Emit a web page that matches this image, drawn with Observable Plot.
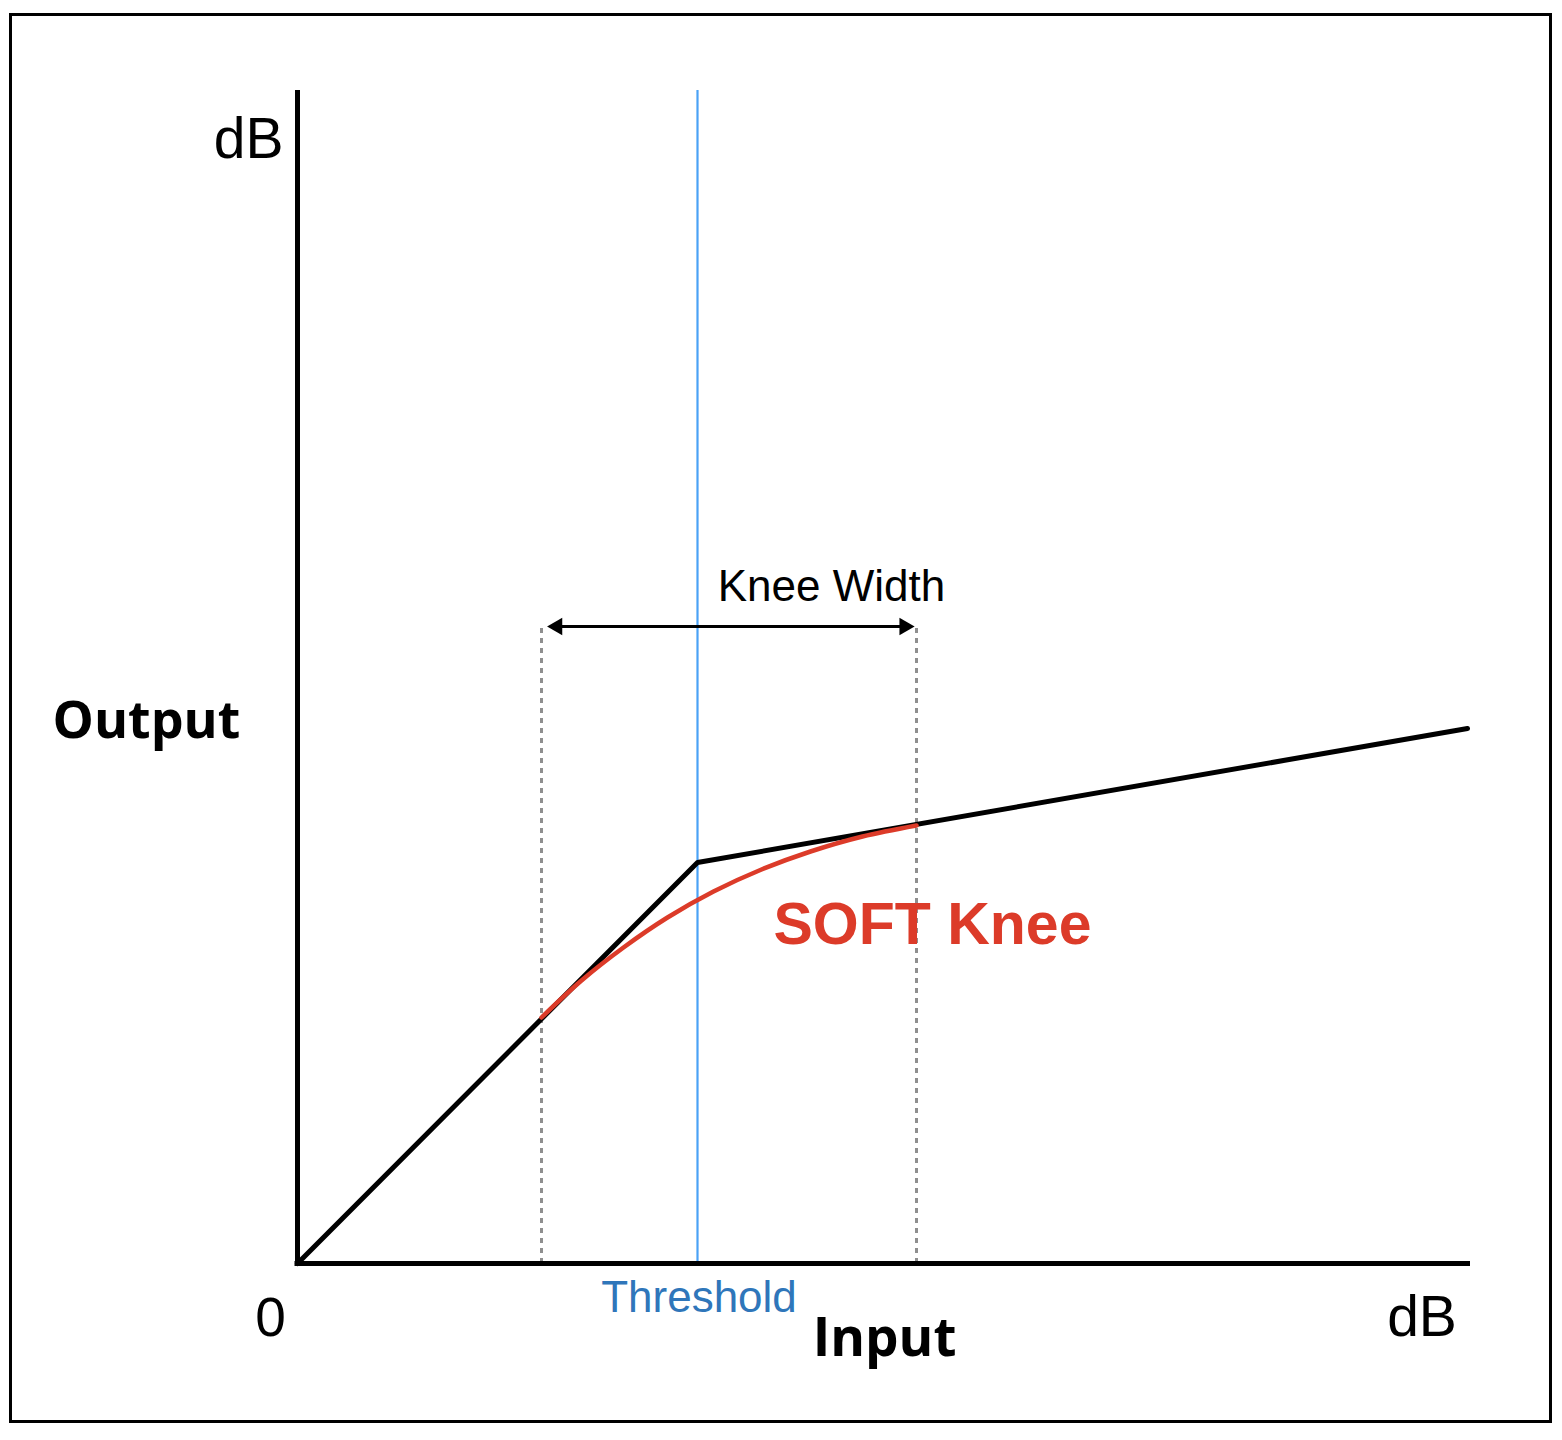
<!DOCTYPE html>
<html>
<head>
<meta charset="utf-8">
<script src="https://cdn.jsdelivr.net/npm/d3@7"></script>
<script src="https://cdn.jsdelivr.net/npm/@observablehq/plot@0.6"></script>
<style>
  html, body { margin: 0; padding: 0; background: #fff; }
  #wrap { position: relative; width: 1562px; height: 1440px; }
  #border { position: absolute; left: 9px; top: 13px; width: 1543px; height: 1410px; box-sizing: border-box; border: 3px solid #000; pointer-events: none; }
  svg { display: block; }
</style>
</head>
<body>
<div id="wrap"><div id="border"></div></div>
<script>
// ---- Data (input / output in dB units) ----
const axisMax = 117.3;
const threshold = 40;
const kneeLow = 24.4;
const kneeHigh = 61.9;
const kneeTop = 63.8;

const transferX = [0, 40, 117];
const transferY = [0, 40.1, 53.5];

const softX = [24.4, 28.4, 32.6, 37.0, 41.6, 46.4, 51.3, 56.5, 61.9];
const softY = [24.6, 28.3, 31.6, 34.6, 37.2, 39.4, 41.2, 42.7, 43.8];

const arrowY = 63.7;
const arrowTips = [24.97, 61.7];

const transfer = transferX.map((x, i) => ({x, y: transferY[i]}));
const soft = softX.map((x, i) => ({x, y: softY[i]}));

const sans = "Liberation Sans, Arial, sans-serif";
const boldSans = "Open Sans, sans-serif";

const chart = Plot.plot({
  width: 1562,
  height: 1440,
  marginLeft: 297,
  marginRight: 92,
  marginTop: 90,
  marginBottom: 177,
  x: {domain: [0, axisMax], axis: null},
  y: {domain: [0, axisMax], axis: null},
  style: {background: "transparent", overflow: "visible"},
  marks: [
    // threshold line
    Plot.ruleX([threshold], {y1: 0, y2: axisMax, stroke: "#4aa2f6", strokeWidth: 2.2}),
    // knee-width dotted guides
    Plot.ruleX([kneeLow, kneeHigh], {y1: 0, y2: kneeTop, stroke: "#8f8f8f", strokeWidth: 3, strokeDasharray: "5,5"}),
    // knee-width arrow
    Plot.ruleY([arrowY], {x1: arrowTips[0] + 1, x2: arrowTips[1] - 1, stroke: "#000", strokeWidth: 2.8}),
    Plot.dot([{x: arrowTips[0] + 1.0, y: arrowY}], {x: "x", y: "y", symbol: "triangle", r: 6.5, fill: "#000", stroke: null, rotate: -90}),
    Plot.dot([{x: arrowTips[1] - 1.0, y: arrowY}], {x: "x", y: "y", symbol: "triangle", r: 6.5, fill: "#000", stroke: null, rotate: 90}),
    // hard knee transfer curve
    Plot.line(transfer, {x: "x", y: "y", stroke: "#000", strokeWidth: 5, strokeLinejoin: "miter"}),
    // soft knee curve
    Plot.line(soft, {x: "x", y: "y", stroke: "#dc3b29", strokeWidth: 4.5, curve: "catmull-rom"}),
    // axes
    Plot.ruleX([0], {y1: 0, y2: axisMax, stroke: "#000", strokeWidth: 5}),
    Plot.ruleY([0], {x1: -0.25, x2: axisMax, stroke: "#000", strokeWidth: 5}),
    // labels
    Plot.text(["dB"], {x: -1.4, y: 110.6, textAnchor: "end", lineAnchor: "bottom", fontSize: 57, fontFamily: sans, fill: "#000"}),
    Plot.text(["0"], {x: -2.7, y: -7.2, textAnchor: "middle", lineAnchor: "bottom", fontSize: 55, fontFamily: sans, fill: "#000"}),
    Plot.text(["dB"], {x: 112.45, y: -7.2, textAnchor: "middle", lineAnchor: "bottom", fontSize: 57, fontFamily: sans, fill: "#000"}),
    Plot.text(["Output"], {x: -24.5, y: 52.6, textAnchor: "start", lineAnchor: "bottom", fontSize: 52, fontWeight: "bold", fontFamily: boldSans, fill: "#000"}),
    Plot.text(["Input"], {x: 58.7, y: -9.2, textAnchor: "middle", lineAnchor: "bottom", fontSize: 53, fontWeight: "bold", fontFamily: boldSans, fill: "#000"}),
    Plot.text(["Threshold"], {x: threshold + 0.15, y: -4.8, textAnchor: "middle", lineAnchor: "bottom", fontSize: 44, fontFamily: sans, fill: "#2f76ba"}),
    Plot.text(["Knee Width"], {x: 53.4, y: 66.3, textAnchor: "middle", lineAnchor: "bottom", fontSize: 44, fontFamily: sans, fill: "#000"}),
    Plot.text(["SOFT Knee"], {x: 47.6, y: 32.0, textAnchor: "start", lineAnchor: "bottom", fontSize: 59, fontWeight: "bold", fontFamily: sans, fill: "#dc3b29"})
  ]
});
document.getElementById("wrap").prepend(chart);
</script>
</body>
</html>
